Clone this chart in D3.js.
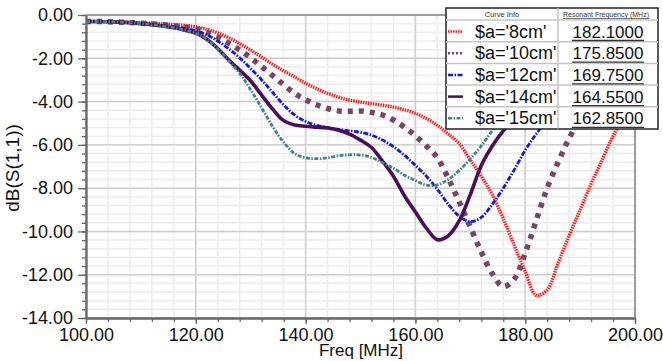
<!DOCTYPE html>
<html><head><meta charset="utf-8">
<script src="https://cdn.jsdelivr.net/npm/d3@7"></script>
<style>
body{margin:0;background:#fff}
svg{display:block}
text{font-family:Arial,"Liberation Sans",sans-serif}
</style>
</head><body>
<svg id="c" width="663" height="361"></svg>
<script>
const freq = [100,102,104,106,108,110,112,114,116,118,120,122,124,126,128,130,132,134,136,138,140,142,144,146,148,150,152,154,156,158,160,162,164,166,168,170,172,174,176,178,180,182,184,186,188,190,192,194,196,198,200];
const s8cm  = [-0.30,-0.30,-0.31,-0.32,-0.34,-0.36,-0.38,-0.41,-0.44,-0.48,-0.55,-0.66,-0.82,-1.05,-1.32,-1.62,-1.95,-2.28,-2.58,-2.86,-3.15,-3.40,-3.62,-3.80,-3.93,-4.02,-4.10,-4.17,-4.25,-4.38,-4.54,-4.78,-5.10,-5.50,-5.95,-6.70,-7.45,-8.30,-9.40,-10.65,-11.85,-12.95,-12.70,-11.45,-10.20,-9.00,-7.80,-6.70,-5.60,-4.70,-3.90];
const s10cm = [-0.30,-0.30,-0.31,-0.33,-0.35,-0.38,-0.41,-0.45,-0.50,-0.56,-0.64,-0.80,-1.02,-1.30,-1.62,-1.98,-2.38,-2.80,-3.22,-3.62,-3.92,-4.15,-4.32,-4.43,-4.45,-4.44,-4.50,-4.62,-4.85,-5.18,-5.58,-6.05,-6.60,-7.55,-8.65,-9.80,-10.95,-11.95,-12.55,-12.20,-11.00,-9.50,-8.00,-6.80,-5.70,-4.80,-4.10,-3.50,-3.00,-2.60,-2.30];
const s12cm = [-0.30,-0.30,-0.31,-0.33,-0.36,-0.39,-0.43,-0.48,-0.54,-0.62,-0.73,-0.92,-1.20,-1.56,-1.98,-2.48,-3.00,-3.58,-4.15,-4.62,-4.92,-5.10,-5.20,-5.28,-5.35,-5.42,-5.55,-5.78,-6.08,-6.48,-6.95,-7.45,-8.05,-8.75,-9.30,-9.55,-9.35,-8.75,-8.00,-7.15,-6.25,-5.50,-4.85,-4.20,-3.60,-3.10,-2.70,-2.40,-2.15,-1.95,-1.80];
const s14cm = [-0.30,-0.30,-0.31,-0.33,-0.36,-0.40,-0.45,-0.51,-0.59,-0.70,-0.84,-1.12,-1.55,-2.08,-2.55,-3.05,-3.70,-4.35,-4.88,-5.08,-5.14,-5.18,-5.22,-5.32,-5.50,-5.78,-6.12,-6.75,-7.45,-8.35,-9.10,-9.85,-10.38,-10.20,-9.50,-8.30,-6.95,-6.05,-5.35,-4.80,-4.30,-3.90,-3.50,-3.20,-2.95,-2.70,-2.50,-2.35,-2.20,-2.05,-1.95];
const s15cm = [-0.30,-0.30,-0.31,-0.33,-0.36,-0.40,-0.45,-0.51,-0.59,-0.70,-0.84,-1.12,-1.56,-2.12,-2.70,-3.45,-4.30,-5.15,-5.88,-6.40,-6.60,-6.64,-6.60,-6.50,-6.46,-6.47,-6.58,-6.82,-7.08,-7.40,-7.65,-7.86,-7.85,-7.60,-7.18,-6.65,-6.05,-5.35,-4.75,-4.20,-3.75,-3.35,-3.00,-2.72,-2.50,-2.30,-2.15,-2.00,-1.90,-1.80,-1.70];
const curveNames = ["$a='8cm'","$a='10cm'","$a='12cm'","$a='14cm'","$a='15cm'"];
const resonant = ["182.1000","175.8500","169.7500","164.5500","162.8500"];
const xTicks = [100,120,140,160,180,200];
const yTicks = [0,-2,-4,-6,-8,-10,-12,-14];

const seriesValues = [s8cm,s10cm,s12cm,s14cm,s15cm];
const styles = [
  {color:"#ff1a1a", width:3.4, dash:"1.5,1"},
  {color:"#7a4466", width:5.5, dash:"5,6"},
  {color:"#1515e6", width:2.8, dash:"5,1.5,1.5,1.5"},
  {color:"#4b0d58", width:3.6, dash:null},
  {color:"#3f8585", width:2.8, dash:"4,1.5,1.5,1.5"}
];

const svg = d3.select("#c");
const L=86, R=635, T=15, B=318;
const x = d3.scaleLinear().domain([100,200]).range([L,R]);
const y = d3.scaleLinear().domain([0,-14]).range([T,B]);

// grid
const g = svg.append("g");
const minorX = d3.range(100,200.1,4), minorY = d3.range(0,-14.01,-0.4);
g.selectAll(".mx").data(minorX).join("line").attr("x1",d=>x(d)).attr("x2",d=>x(d)).attr("y1",T).attr("y2",B).attr("stroke","#ececec").attr("stroke-width",1.5);
g.selectAll(".my").data(minorY).join("line").attr("y1",d=>y(d)).attr("y2",d=>y(d)).attr("x1",L).attr("x2",R).attr("stroke","#ececec").attr("stroke-width",1.5);
g.selectAll(".Mx").data(xTicks).join("line").attr("x1",d=>x(d)).attr("x2",d=>x(d)).attr("y1",T).attr("y2",B).attr("stroke","#cfcfcf").attr("stroke-width",1.5);
g.selectAll(".My").data(yTicks).join("line").attr("y1",d=>y(d)).attr("y2",d=>y(d)).attr("x1",L).attr("x2",R).attr("stroke","#cfcfcf").attr("stroke-width",1.5);

// clip
svg.append("clipPath").attr("id","clip").append("rect").attr("x",L).attr("y",T).attr("width",R-L).attr("height",B-T);

const line = d3.line().x(d=>x(d[0])).y(d=>y(d[1])).curve(d3.curveCatmullRom.alpha(0.5));
const cg = svg.append("g").attr("clip-path","url(#clip)");
seriesValues.forEach((vals,i)=>{
  const st = styles[i];
  cg.append("path").datum(freq.map((f,j)=>[f,vals[j]]))
    .attr("d",line).attr("fill","none").attr("stroke",st.color)
    .attr("stroke-width",st.width).attr("stroke-dasharray",st.dash)
    .attr("stroke-linejoin","round");
});

// frame
svg.append("line").attr("x1",L).attr("x2",R).attr("y1",T).attr("y2",T).attr("stroke","#8a8a8a").attr("stroke-width",1.5);
svg.append("line").attr("x1",R).attr("x2",R).attr("y1",T).attr("y2",B).attr("stroke","#8a8a8a").attr("stroke-width",1.5);

// axes
const ya = svg.append("g").attr("transform",`translate(${L},0)`)
  .call(d3.axisLeft(y).tickValues(yTicks).tickFormat(d=>d.toFixed(2)).tickSize(8).tickPadding(5).tickSizeOuter(0));
const yMinor = svg.append("g").attr("transform",`translate(${L},0)`)
  .call(d3.axisLeft(y).tickValues(minorY).tickFormat("").tickSize(4).tickSizeOuter(0));
const xa = svg.append("g").attr("transform",`translate(0,${B})`)
  .call(d3.axisBottom(x).tickValues(xTicks).tickFormat(d=>d.toFixed(2)).tickSize(6).tickPadding(4).tickSizeOuter(0));
const xMinor = svg.append("g").attr("transform",`translate(0,${B})`)
  .call(d3.axisBottom(x).tickValues(minorX).tickFormat("").tickSize(4).tickSizeOuter(0));
[ya,yMinor,xa,xMinor].forEach(a=>{
  a.select(".domain").attr("stroke","#666").attr("stroke-width",1.8);
  a.selectAll(".tick line").attr("stroke","#666").attr("stroke-width",1.3);
  a.selectAll("text").attr("font-size",18).attr("fill","#111").attr("font-family","Arial, 'Liberation Sans', sans-serif");
});

svg.append("text").attr("transform","translate(19,168) rotate(-90)").attr("text-anchor","middle")
  .attr("font-size",19).attr("fill","#111").text("dB(S(1,1))");
svg.append("text").attr("x",361).attr("y",356).attr("text-anchor","middle")
  .attr("font-size",17).attr("fill","#111").text("Freq [MHz]");

// legend
const lx=446, ly=8, lw=212, colX=558, hdr=12, rh=21.7;
const lg = svg.append("g");
lg.append("rect").attr("x",lx).attr("y",ly).attr("width",lw).attr("height",hdr+rh*5+0.5).attr("fill","#fff").attr("stroke","#222").attr("stroke-width",1.5);
lg.append("line").attr("x1",colX).attr("x2",colX).attr("y1",ly).attr("y2",ly+hdr+rh*5).attr("stroke","#c4c4c4").attr("stroke-width",1.5);
for(let i=0;i<5;i++){
  const top = ly+hdr+rh*i;
  lg.append("line").attr("x1",lx).attr("x2",lx+lw).attr("y1",top).attr("y2",top).attr("stroke","#c4c4c4").attr("stroke-width",1.5);
}
lg.append("text").attr("x",502).attr("y",ly+9).attr("text-anchor","middle").attr("font-size",7.5).attr("fill","#333").text("Curve Info");
lg.append("text").attr("x",606).attr("y",ly+9).attr("text-anchor","middle").attr("font-size",7).attr("fill","#333").attr("text-decoration","underline").text("Resonant Frequency (MHz)");
curveNames.forEach((name,i)=>{
  const top = ly+hdr+rh*i;
  const st = styles[i];
  lg.append("line").attr("x1",448).attr("x2",463).attr("y1",top+11.5).attr("y2",top+11.5)
    .attr("stroke",st.color).attr("stroke-width",Math.min(st.width,2.5)).attr("stroke-dasharray",i===1?"2,2":st.dash);
  lg.append("text").attr("x",475).attr("y",top+17.5).attr("font-size",18).attr("fill","#111").text(name);
  lg.append("text").attr("x",608).attr("y",top+17.5).attr("text-anchor","middle").attr("font-size",17).attr("fill","#111").text(resonant[i]);
  lg.append("line").attr("x1",572).attr("x2",644).attr("y1",top+20.5).attr("y2",top+20.5).attr("stroke","#333").attr("stroke-width",1.3);
});
</script>
</body></html>
